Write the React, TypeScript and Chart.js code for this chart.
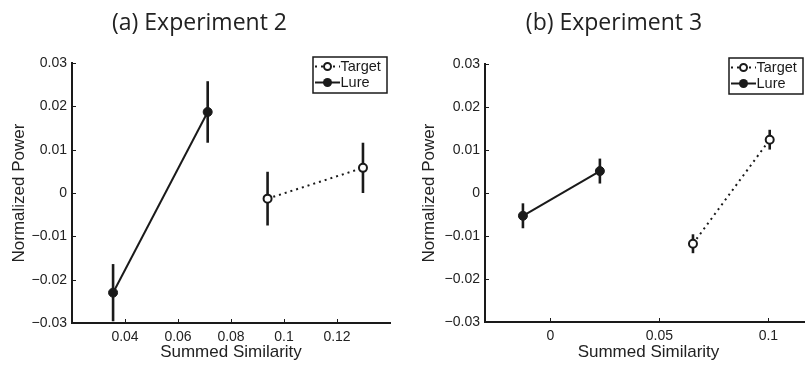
import React, { useEffect, useRef } from "react";
import { Chart, registerables } from "chart.js";
Chart.register(...registerables);

// ---- data ----
const yTicks = [-0.03, -0.02, -0.01, 0, 0.01, 0.02, 0.03];
const xTicksA = [0.04, 0.06, 0.08, 0.1, 0.12];
const xTicksB = [0, 0.05, 0.1];

const lureXA = [0.0355, 0.0712];
const lureYA = [-0.023, 0.0187];
const lureErrA = [0.0066, 0.0071];
const targetXA = [0.0938, 0.1298];
const targetYA = [-0.0013, 0.0058];
const targetErrA = [0.0062, 0.0058];

const lureXB = [-0.0126, 0.0227];
const lureYB = [-0.0053, 0.0051];
const lureErrB = [0.0029, 0.0029];
const targetXB = [0.0654, 0.1006];
const targetYB = [-0.0118, 0.0124];
const targetErrB = [0.0022, 0.0023];

const seriesNames = ["Target", "Lure"];
const titles = ["(a) Experiment 2", "(b) Experiment 3"];
const xTitle = "Summed Similarity";
const yTitle = "Normalized Power";

const INK = "#1a1a1a";
const TICK_FONT = "'Liberation Sans', Arial, sans-serif";

function fmtY(v: number) {
  if (v === 0) return "0";
  return (v < 0 ? "\u2212" : "") + Math.abs(v).toFixed(2);
}
function fmtX(v: number) {
  const s = String(+v.toFixed(3));
  return s.startsWith("-") ? "\u2212" + s.slice(1) : s;
}

const errorBarPlugin = {
  id: "errorBars",
  beforeDatasetsDraw(chart: any) {
    const ctx = chart.ctx;
    const xs = chart.scales.x;
    const ys = chart.scales.y;
    ctx.save();
    ctx.strokeStyle = INK;
    ctx.lineWidth = 2.6;
    chart.data.datasets.forEach((ds: any) => {
      (ds.data as any[]).forEach((p: any, i: number) => {
        const e = ds.errors[i];
        const px = xs.getPixelForValue(p.x);
        ctx.beginPath();
        ctx.moveTo(px, ys.getPixelForValue(p.y - e));
        ctx.lineTo(px, ys.getPixelForValue(p.y + e));
        ctx.stroke();
      });
    });
    ctx.restore();
  },
};

const inwardTicksPlugin = {
  id: "inwardTicks",
  afterDraw(chart: any) {
    const ctx = chart.ctx;
    const { left, bottom } = chart.chartArea;
    ctx.save();
    ctx.strokeStyle = INK;
    ctx.lineWidth = 1;
    chart.scales.x.ticks.forEach((t: any) => {
      const px = Math.round(chart.scales.x.getPixelForValue(t.value)) + 0.5;
      ctx.beginPath();
      ctx.moveTo(px, bottom);
      ctx.lineTo(px, bottom - 4);
      ctx.stroke();
    });
    chart.scales.y.ticks.forEach((t: any) => {
      const py = Math.round(chart.scales.y.getPixelForValue(t.value)) + 0.5;
      ctx.beginPath();
      ctx.moveTo(left, py);
      ctx.lineTo(left + 4, py);
      ctx.stroke();
    });
    ctx.restore();
  },
};

const boxLegendPlugin = {
  id: "boxLegend",
  afterDraw(chart: any, _args: any, opts: any) {
    const ctx = chart.ctx;
    const { top, right } = chart.chartArea;
    const w = 74;
    const h = 36;
    const bx = right - opts.inset - w;
    const by = top - 6;
    ctx.save();
    ctx.fillStyle = "#fff";
    ctx.fillRect(bx, by, w, h);
    ctx.strokeStyle = INK;
    ctx.lineWidth = 1.5;
    ctx.strokeRect(bx, by, w, h);
    ctx.font = `14.5px ${TICK_FONT}`;
    ctx.textBaseline = "middle";
    ctx.fillStyle = INK;
    const rows = [by + 9.5, by + 25.5];
    // Target row
    ctx.lineWidth = 2;
    ctx.setLineDash([2, 4]);
    ctx.beginPath();
    ctx.moveTo(bx + 2, rows[0]);
    ctx.lineTo(bx + 27, rows[0]);
    ctx.stroke();
    ctx.setLineDash([]);
    ctx.beginPath();
    ctx.arc(bx + 14.5, rows[0], 3.5, 0, Math.PI * 2);
    ctx.fillStyle = "#fff";
    ctx.fill();
    ctx.stroke();
    // Lure row
    ctx.beginPath();
    ctx.moveTo(bx + 2, rows[1]);
    ctx.lineTo(bx + 27, rows[1]);
    ctx.stroke();
    ctx.beginPath();
    ctx.arc(bx + 14.5, rows[1], 4.5, 0, Math.PI * 2);
    ctx.fillStyle = INK;
    ctx.fill();
    ctx.fillStyle = INK;
    ctx.fillText(seriesNames[0], bx + 27.5, rows[0]);
    ctx.fillText(seriesNames[1], bx + 27.5, rows[1]);
    ctx.restore();
  },
};

type Panel = {
  title: string;
  lureX: number[]; lureY: number[]; lureErr: number[];
  targetX: number[]; targetY: number[]; targetErr: number[];
  xMin: number; xMax: number; xTicks: number[];
  padL: number; padR: number; yAxisWidth: number; yTitlePad: number;
  titlePadBottom: number; xAxisHeight: number; legendInset: number;
  width: number; left: number;
};

const panels: Panel[] = [
  {
    title: titles[0],
    lureX: lureXA, lureY: lureYA, lureErr: lureErrA,
    targetX: targetXA, targetY: targetYA, targetErr: targetErrA,
    xMin: 0.02, xMax: 0.14, xTicks: xTicksA,
    padL: 9, padR: 10, yAxisWidth: 63, yTitlePad: 0,
    titlePadBottom: 25.4, xAxisHeight: 44, legendInset: 3,
    width: 400, left: 0,
  },
  {
    title: titles[1],
    lureX: lureXB, lureY: lureYB, lureErr: lureErrB,
    targetX: targetXB, targetY: targetYB, targetErr: targetErrB,
    xMin: -0.03, xMax: 0.12, xTicks: xTicksB,
    padL: 16, padR: 12, yAxisWidth: 69, yTitlePad: 3.5,
    titlePadBottom: 26.4, xAxisHeight: 45, legendInset: 9,
    width: 424, left: 400,
  },
];

function PanelChart({ p }: { p: Panel }) {
  const ref = useRef<HTMLCanvasElement>(null);
  useEffect(() => {
    if (!ref.current) return;
    const pts = (xs: number[], ys: number[]) => xs.map((x, i) => ({ x, y: ys[i] }));
    const chart = new Chart(ref.current, {
      type: "scatter",
      data: {
        datasets: [
          {
            label: seriesNames[0],
            data: pts(p.targetX, p.targetY),
            errors: p.targetErr,
            showLine: true,
            borderColor: INK,
            borderWidth: 2,
            borderDash: [2, 4],
            pointRadius: 4,
            pointBorderWidth: 2,
            pointBorderColor: INK,
            pointBackgroundColor: "#fff",
          } as any,
          {
            label: seriesNames[1],
            data: pts(p.lureX, p.lureY),
            errors: p.lureErr,
            showLine: true,
            borderColor: INK,
            borderWidth: 2,
            pointRadius: 4.5,
            pointBorderWidth: 1,
            pointBorderColor: INK,
            pointBackgroundColor: INK,
          } as any,
        ],
      },
      options: {
        animation: false,
        responsive: false,
        devicePixelRatio: 1,
        layout: { padding: { left: p.padL, right: p.padR, top: 0, bottom: 0 } },
        plugins: {
          legend: { display: false },
          tooltip: { enabled: false },
          title: {
            display: true,
            text: p.title,
            color: "#222",
            font: { family: "'Open Sans', sans-serif", size: 23, weight: "normal" },
            padding: { top: 10, bottom: p.titlePadBottom },
          },
          boxLegend: { inset: p.legendInset },
        } as any,
        scales: {
          x: {
            type: "linear",
            min: p.xMin,
            max: p.xMax,
            afterBuildTicks: (s: any) => { s.ticks = p.xTicks.map((v) => ({ value: v })); },
            afterFit: (s: any) => { s.height = p.xAxisHeight; },
            grid: { display: false, drawTicks: false },
            border: { display: true, color: INK, width: 2 },
            ticks: {
              padding: 5.6,
              color: "#222",
              font: { family: TICK_FONT, size: 14 },
              callback: (v: any) => fmtX(Number(v)),
              maxRotation: 0,
              autoSkip: false,
            },
            title: {
              display: true,
              text: xTitle,
              color: "#222",
              font: { family: TICK_FONT, size: 17 },
              padding: { top: 0, bottom: 4.3 },
            },
          },
          y: {
            type: "linear",
            min: -0.03,
            max: 0.03,
            afterBuildTicks: (s: any) => { s.ticks = yTicks.map((v) => ({ value: v })); },
            afterFit: (s: any) => { s.width = p.yAxisWidth; },
            grid: { display: false, drawTicks: false },
            border: { display: true, color: INK, width: 2 },
            ticks: {
              padding: 5,
              color: "#222",
              font: { family: TICK_FONT, size: 14 },
              callback: (v: any) => fmtY(Number(v)),
              autoSkip: false,
            },
            title: {
              display: true,
              text: yTitle,
              color: "#222",
              font: { family: TICK_FONT, size: 17 },
              padding: { top: p.yTitlePad, bottom: 0 },
            },
          },
        },
      } as any,
      plugins: [errorBarPlugin, inwardTicksPlugin, boxLegendPlugin],
    });
    return () => chart.destroy();
  }, [p]);
  return (
    <canvas
      ref={ref}
      width={p.width}
      height={367}
      style={{ position: "absolute", left: p.left, top: 0, width: p.width, height: 367 }}
    />
  );
}

export default function App() {
  return (
    <div
      style={{
        position: "absolute",
        left: 0,
        top: 0,
        width: 805,
        height: 367,
        overflow: "hidden",
        background: "#fff",
      }}
    >
      {panels.map((p, i) => (
        <PanelChart key={i} p={p} />
      ))}
    </div>
  );
}
